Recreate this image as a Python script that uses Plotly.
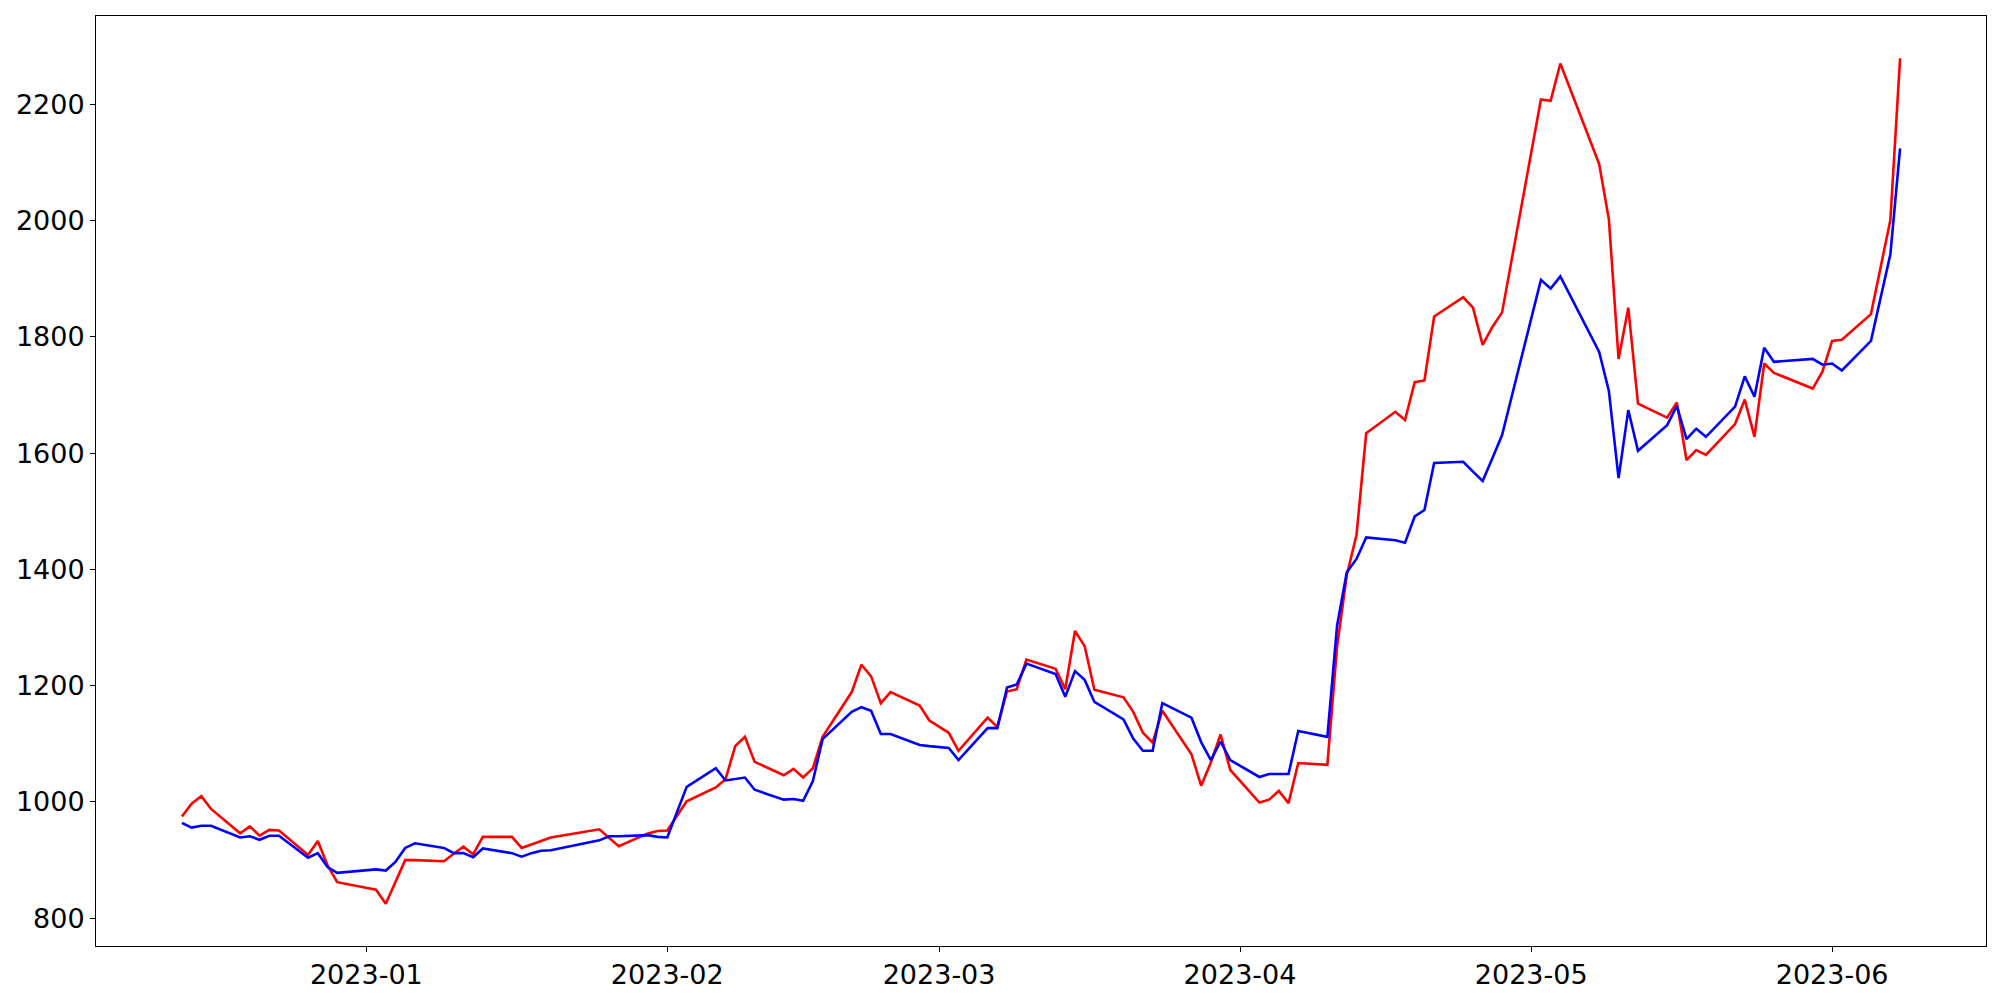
import pandas as pd
import plotly.graph_objects as go

dates = [
    "2022-12-13", "2022-12-14", "2022-12-15", "2022-12-16",
    "2022-12-19", "2022-12-20", "2022-12-21", "2022-12-22", "2022-12-23",
    "2022-12-26", "2022-12-27", "2022-12-28", "2022-12-29",
    "2023-01-02", "2023-01-03", "2023-01-04", "2023-01-05", "2023-01-06",
    "2023-01-09", "2023-01-10", "2023-01-11", "2023-01-12", "2023-01-13",
    "2023-01-16", "2023-01-17", "2023-01-18", "2023-01-19", "2023-01-20",
    "2023-01-25", "2023-01-26", "2023-01-27",
    "2023-01-30", "2023-01-31", "2023-02-01", "2023-02-03",
    "2023-02-06", "2023-02-07", "2023-02-08", "2023-02-09", "2023-02-10",
    "2023-02-13", "2023-02-14", "2023-02-15", "2023-02-16", "2023-02-17",
    "2023-02-20", "2023-02-21", "2023-02-22", "2023-02-23", "2023-02-24",
    "2023-02-27", "2023-02-28", "2023-03-02", "2023-03-03",
    "2023-03-06", "2023-03-07", "2023-03-08", "2023-03-09", "2023-03-10",
    "2023-03-13", "2023-03-14", "2023-03-15", "2023-03-16", "2023-03-17",
    "2023-03-20", "2023-03-21", "2023-03-22", "2023-03-23", "2023-03-24",
    "2023-03-27", "2023-03-28", "2023-03-29", "2023-03-30", "2023-03-31",
    "2023-04-03", "2023-04-04", "2023-04-05", "2023-04-06", "2023-04-07",
    "2023-04-10", "2023-04-11", "2023-04-12", "2023-04-13", "2023-04-14",
    "2023-04-17", "2023-04-18", "2023-04-19", "2023-04-20", "2023-04-21",
    "2023-04-24", "2023-04-25", "2023-04-26", "2023-04-27", "2023-04-28",
    "2023-05-02", "2023-05-03", "2023-05-04",
    "2023-05-08", "2023-05-09", "2023-05-10", "2023-05-11", "2023-05-12",
    "2023-05-15", "2023-05-16", "2023-05-17", "2023-05-18", "2023-05-19",
    "2023-05-22", "2023-05-23", "2023-05-24", "2023-05-25", "2023-05-26",
    "2023-05-30", "2023-05-31", "2023-06-01", "2023-06-02",
    "2023-06-05", "2023-06-07", "2023-06-08",
]

red_values = [
    975, 997, 1010, 988,
    946, 958, 942, 952, 951,
    909, 933, 891, 862,
    849, 825, 862, 900, 900,
    898, 911, 923, 910, 940,
    940, 921, 927, 933, 939,
    953, 939, 924,
    946, 950, 951, 1001,
    1025, 1039, 1096, 1112, 1069,
    1046, 1057, 1042, 1058, 1112,
    1189, 1236, 1216, 1170, 1189,
    1166, 1140, 1119, 1088,
    1145, 1129, 1190, 1194, 1245,
    1229, 1194, 1294, 1268, 1193,
    1180, 1155, 1119, 1102, 1157,
    1082, 1028, 1068, 1116, 1055,
    999, 1004, 1019, 998, 1067,
    1064, 1267, 1390, 1459, 1634,
    1671, 1657, 1722, 1725, 1835,
    1868, 1850, 1786, 1817, 1842,
    2208, 2206, 2270,
    2097, 2002, 1762, 1850, 1685,
    1661, 1687, 1588, 1605, 1597,
    1650, 1692, 1628, 1754, 1738,
    1711, 1740, 1793, 1795,
    1839, 2001, 2279,
]

blue_values = [
    964, 956, 959, 959,
    939, 941, 935, 942, 942,
    904, 912, 888, 878,
    884, 882, 897, 921, 929,
    921, 912, 912, 905, 920,
    912, 906, 912, 916, 917,
    934, 941, 941,
    943, 940, 939, 1026,
    1058, 1037, 1040, 1042, 1021,
    1004, 1005, 1002, 1036, 1108,
    1155, 1163, 1157, 1117, 1117,
    1098, 1096, 1093, 1072,
    1127, 1127, 1197, 1202, 1238,
    1220, 1181, 1225, 1210, 1172,
    1142, 1109, 1088, 1088, 1170,
    1145, 1103, 1072, 1104, 1072,
    1043, 1048, 1048, 1048, 1122,
    1112, 1303, 1395, 1418, 1455,
    1450, 1446, 1491, 1502, 1583,
    1585, 1568, 1552, 1591, 1631,
    1898, 1883, 1904,
    1774, 1707, 1557, 1674, 1604,
    1648, 1681, 1624, 1642, 1628,
    1680, 1732, 1697, 1781, 1757,
    1762, 1752, 1754, 1742,
    1793, 1942, 2124,
]

y_ticks = [800, 1000, 1200, 1400, 1600, 1800, 2000, 2200]

x = pd.to_datetime(dates)
span = x.max() - x.min()
x_range = [x.min() - 0.05 * span, x.max() + 0.05 * span]
all_vals = red_values + blue_values
vspan = max(all_vals) - min(all_vals)
y_range = [min(all_vals) - 0.05 * vspan, max(all_vals) + 0.05 * vspan]

fig = go.Figure()
fig.add_trace(go.Scatter(x=x, y=red_values, mode="lines",
                         line=dict(color="#ff0000", width=2.6), showlegend=False))
fig.add_trace(go.Scatter(x=x, y=blue_values, mode="lines",
                         line=dict(color="#0000ff", width=2.6), showlegend=False))

axis_common = dict(showline=True, linecolor="black", linewidth=1, mirror=True,
                   ticks="outside", ticklen=5, tickwidth=1, tickcolor="black",
                   showgrid=False, zeroline=False, automargin=False,
                   tickfont=dict(family="DejaVu Sans", size=27, color="black"))

fig.update_xaxes(range=x_range, tickformat="%Y-%m", dtick="M1",
                 tick0="2023-01-01", **axis_common)
fig.update_yaxes(range=y_range, tickvals=y_ticks,
                 ticktext=[str(v) for v in y_ticks], **axis_common)

# page body has an 8px margin, so the figure is 1984x984 and offset by 8px
fig.update_layout(width=1984, height=984,
                  margin=dict(l=88, r=6, t=8, b=46, pad=0),
                  paper_bgcolor="white", plot_bgcolor="white")

fig.write_html("out.html")
